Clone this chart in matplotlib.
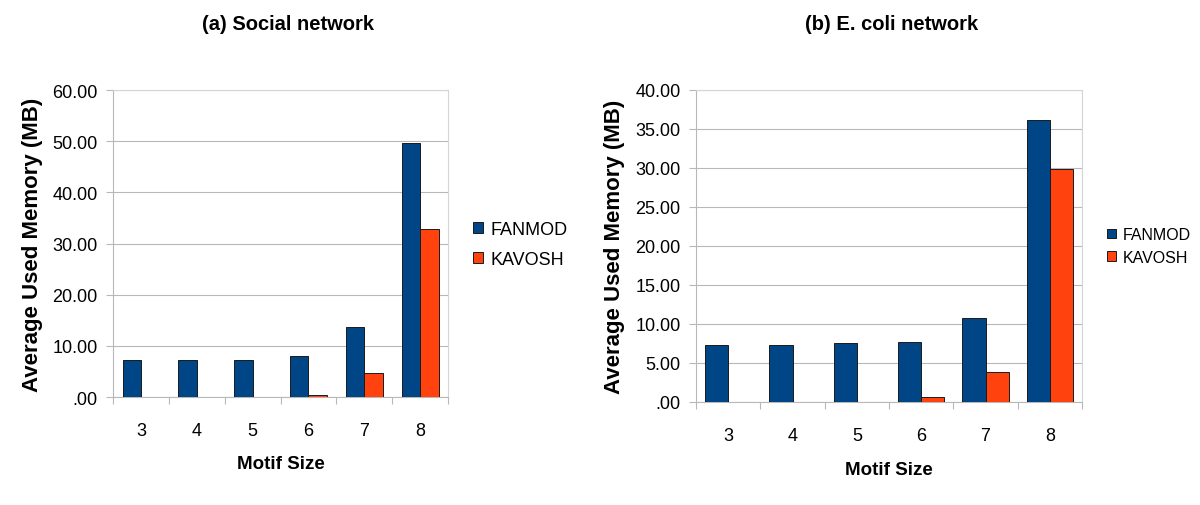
import numpy as np
import matplotlib
matplotlib.use("Agg")
import matplotlib.pyplot as plt
from matplotlib.ticker import FuncFormatter

plt.rcParams['font.family'] = ['Liberation Sans', 'DejaVu Sans']

motif_sizes = ["3", "4", "5", "6", "7", "8"]

# (a) Social network
social_fanmod = [7.26, 7.26, 7.26, 8.10, 13.75, 49.70]
social_kavosh = [0.0, 0.0, 0.0, 0.39, 4.67, 32.90]

# (b) E. coli network
ecoli_fanmod = [7.36, 7.36, 7.53, 7.74, 10.78, 36.10]
ecoli_kavosh = [0.0, 0.0, 0.0, 0.68, 3.81, 29.90]

FANMOD_COLOR = "#004586"
KAVOSH_COLOR = "#ff420e"
GRID_COLOR = "#b8b8b8"


def fmt_mb(v, pos):
    s = f"{v:.2f}"
    if s.startswith("0"):
        s = s[1:]
    return s


def plot_panel(fig, rect, fanmod, kavosh, ymax, ystep, width, title, title_x,
               leg_anchor, leg_size, leg_spacing, ylabel_x, xlabel_y):
    ax = fig.add_axes(rect)
    x = np.arange(len(motif_sizes))
    ax.bar(x - width / 2, fanmod, width=width, color=FANMOD_COLOR,
           edgecolor="#1a1a1a", linewidth=0.7, label="FANMOD", zorder=3)
    ax.bar(x + width / 2, kavosh, width=width, color=KAVOSH_COLOR,
           edgecolor="#1a1a1a", linewidth=0.7, label="KAVOSH", zorder=3)

    ax.set_xlim(-0.5, len(motif_sizes) - 0.5)
    ax.set_ylim(0, ymax)
    ax.set_yticks(np.arange(0, ymax + 0.1, ystep))
    ax.yaxis.set_major_formatter(FuncFormatter(fmt_mb))
    ax.set_xticks(x)
    ax.set_xticklabels(motif_sizes)
    ax.set_xticks(np.arange(-0.5, len(motif_sizes)), minor=True)

    ax.tick_params(axis="y", length=5, width=0.8, color=GRID_COLOR,
                   labelsize=13, pad=6)
    ax.tick_params(axis="x", which="major", length=0, labelsize=13, pad=18)
    ax.tick_params(axis="x", which="minor", length=5, width=0.8,
                   color=GRID_COLOR)
    ax.grid(axis="y", color=GRID_COLOR, linewidth=0.8, zorder=0)
    ax.set_axisbelow(True)
    for side in ["left", "bottom", "right", "top"]:
        ax.spines[side].set_color(GRID_COLOR if side in ("left", "bottom") else "#d4d4d4")
        ax.spines[side].set_linewidth(0.8)

    ax.set_xlabel("Motif Size", fontsize=13.5, fontweight="bold")
    ax.xaxis.set_label_coords(0.5, xlabel_y)
    ax.xaxis.label.set_va("center")
    ax.set_ylabel("Average Used Memory (MB)", fontsize=16, fontweight="bold")
    ax.yaxis.set_label_coords(ylabel_x, 0.5)
    ax.yaxis.label.set_va("center")

    fig.text(title_x, 0.951, title, fontsize=14.5, fontweight="bold",
             ha="center", va="center")

    ax.legend(loc="center left", bbox_to_anchor=leg_anchor,
              bbox_transform=fig.transFigure, frameon=False, fontsize=leg_size,
              handlelength=0.55, handleheight=0.55, handletextpad=0.45,
              labelspacing=leg_spacing, borderpad=0, borderaxespad=0)
    return ax


fig = plt.figure(figsize=(12, 5.06), dpi=100)

plot_panel(fig, [0.0942, 0.2134, 0.2792, 0.6067], social_fanmod, social_kavosh,
           60, 10, 0.33, "(a) Social network", 0.24,
           (0.394, 0.515), 13, 0.75, -0.24, -0.218)

plot_panel(fig, [0.58, 0.2036, 0.3217, 0.6166], ecoli_fanmod, ecoli_kavosh,
           40, 5, 0.36, "(b) E. coli network", 0.743,
           (0.9225, 0.512), 11.5, 0.45, -0.21, -0.215)

fig.savefig("out.png", dpi=100)
